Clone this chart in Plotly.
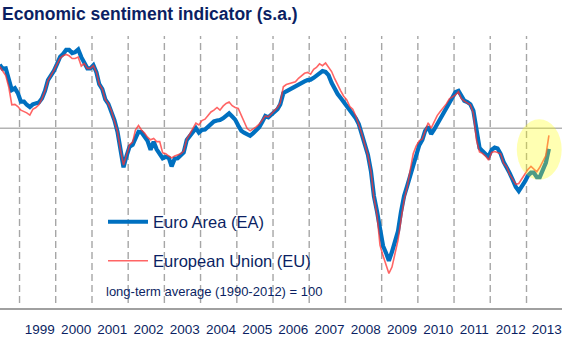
import pandas as pd
import plotly.graph_objects as go

# ---------------- data ----------------
first_month = "1998-06-01"
last_month = "2013-08-01"
months = pd.date_range(first_month, last_month, freq="MS") + pd.Timedelta(days=14)

euro_area = [
    # 1998 Jun-Dec
    114.1, 113.2, 113.3, 110.8, 108.5, 108.9, 107.8,
    # 1999
    105.9, 105.9, 105.2, 104.7, 105.3, 105.5, 105.7, 106.6, 108.3, 110.7, 111.7, 112.8,
    # 2000
    114.3, 115.9, 116.5, 117.4, 117.4, 116.7, 116.9, 117.5, 115.8, 114.6, 113.3, 113.3,
    # 2001
    114.0, 112.4, 109.8, 108.7, 106.4, 105.4, 103.9, 101.8, 99.2, 94.8, 91.3, 93.8,
    # 2002
    95.9, 96.3, 97.9, 99.2, 99.1, 98.1, 97.2, 95.2, 97.0, 95.3, 94.1, 93.3,
    # 2003
    93.6, 93.4, 91.5, 93.2, 93.3, 93.9, 94.6, 97.4, 98.3, 99.1, 100.0, 99.0,
    # 2004
    99.6, 99.7, 100.3, 101.2, 101.5, 101.7, 101.8, 102.2, 102.7, 103.3, 102.6, 101.9,
    # 2005
    100.6, 99.4, 99.0, 98.6, 98.3, 98.9, 99.6, 100.2, 101.4, 102.7, 102.4, 103.0,
    # 2006
    103.7, 104.2, 105.3, 107.8, 108.2, 108.6, 109.0, 109.3, 109.6, 110.1, 110.4, 110.7,
    # 2007
    110.8, 111.2, 111.6, 112.1, 112.7, 112.5, 111.8, 110.1, 108.7, 107.6, 106.7, 105.8,
    # 2008
    105.0, 104.2, 103.4, 102.2, 100.9, 98.6, 96.1, 94.1, 90.4, 84.9, 81.5, 77.4,
    # 2009
    73.8, 72.2, 70.5, 72.5, 75.1, 77.1, 81.4, 84.9, 87.1, 89.4, 92.3, 94.5,
    # 2010
    96.2, 97.4, 99.4, 100.3, 98.7, 99.7, 100.9, 101.9, 103.3, 104.6, 105.8, 107.2,
    # 2011
    108.0, 108.3, 107.1, 106.1, 105.8, 105.3, 103.9, 99.6, 95.6, 94.9, 94.3, 93.6,
    # 2012
    95.2, 95.7, 95.5, 94.3, 92.5, 91.4, 90.0, 88.5, 86.9, 86.0, 87.0, 88.1,
    # 2013 Jan-Aug
    89.4, 90.1, 90.1, 89.1, 89.1, 90.5, 92.3, 95.4,
]

european_union = [
    # 1998 Jun-Dec
    113.7, 112.6, 111.7, 109.1, 105.2, 105.3, 104.8,
    # 1999
    104.0, 103.7, 103.4, 102.9, 104.2, 104.6, 105.2, 106.5, 108.3, 110.6, 111.7, 112.9,
    # 2000
    114.3, 115.6, 116.1, 116.4, 116.1, 115.5, 115.5, 115.8, 113.8, 114.4, 113.3, 113.3,
    # 2001
    113.9, 112.4, 109.8, 108.7, 106.4, 105.4, 103.9, 101.8, 99.2, 95.2, 91.8, 94.0,
    # 2002
    96.3, 96.9, 99.6, 100.6, 99.6, 98.9, 98.0, 97.4, 97.7, 97.0, 97.0, 94.5,
    # 2003
    94.3, 93.8, 93.4, 93.8, 94.0, 94.3, 94.9, 97.6, 98.7, 99.8, 101.1, 100.7,
    # 2004
    101.7, 102.0, 102.9, 103.6, 104.0, 104.6, 104.0, 104.9, 105.5, 105.8, 105.0, 104.6,
    # 2005
    104.4, 102.7, 101.2, 99.9, 99.4, 99.8, 100.3, 100.9, 101.8, 102.7, 102.5, 103.2,
    # 2006
    103.7, 104.6, 105.6, 109.2, 109.7, 109.9, 110.2, 110.3, 111.1, 111.6, 112.2, 112.4,
    # 2007
    112.0, 113.1, 113.5, 114.3, 113.9, 114.5, 113.5, 112.6, 111.0, 109.5, 108.3, 107.1,
    # 2008
    106.3, 104.8, 104.2, 102.7, 100.9, 98.7, 96.3, 94.0, 90.3, 84.5, 80.7, 74.0,
    # 2009
    71.6, 69.4, 67.7, 69.1, 72.0, 75.1, 79.6, 84.0, 86.9, 90.3, 94.3, 96.0,
    # 2010
    97.2, 97.6, 99.4, 101.2, 100.0, 101.6, 102.8, 103.7, 104.5, 105.4, 106.5, 106.9,
    # 2011
    107.4, 108.1, 106.6, 106.0, 105.6, 105.2, 103.3, 97.4, 94.7, 94.4, 93.8, 92.9,
    # 2012
    94.6, 94.8, 94.6, 94.3, 92.2, 91.4, 89.7, 88.5, 87.5, 87.7, 88.7, 89.9,
    # 2013 Jan-Aug
    90.8, 91.5, 90.9, 90.3, 91.3, 92.5, 93.9, 98.4,
]

years = list(range(1999, 2014))
year_labels = [str(y) for y in years]
long_term_average = 100

title_text = "Economic sentiment indicator (s.a.)"
name_ea = "Euro Area (EA)"
name_eu = "European Union (EU)"
note_text = "long-term average (1990-2012) = 100"

# ---------------- style ----------------
W, H = 562, 338
M_T, M_B = 36, 30
PLOT_H = H - M_T - M_B
NAVY = "#0b1f63"
BLUE = "#0070c0"
RED = "rgba(255,50,50,0.75)"
GRID = "#a6a6a6"
FONT = "Liberation Sans, Arial, sans-serif"


def px_x(p):
    return p / W


def px_y(p):
    return (H - M_B - p) / PLOT_H


fig = go.Figure()
fig.add_trace(go.Scatter(x=months, y=euro_area, name=name_ea, mode="lines",
                         line=dict(color=BLUE, width=4.2), legend="legend"))
fig.add_trace(go.Scatter(x=months, y=european_union, name=name_eu, mode="lines",
                         line=dict(color=RED, width=1.6), legend="legend2"))

shapes = []
for y in years:
    shapes.append(dict(type="line", xref="x", yref="y", x0=f"{y}-01-01", x1=f"{y}-01-01",
                       y0=61.1, y1=120.5, layer="below",
                       line=dict(color=GRID, width=1.4, dash="7px,4px")))
# white boxes behind legend and note
shapes.append(dict(type="rect", xref="paper", yref="paper", x0=px_x(85), x1=px_x(350),
                   y0=px_y(279), y1=px_y(200), fillcolor="white", line=dict(width=0), layer="below"))
shapes.append(dict(type="rect", xref="paper", yref="paper", x0=px_x(100), x1=px_x(338),
                   y0=px_y(305), y1=px_y(279), fillcolor="white", line=dict(width=0), layer="below"))
# long-term average line
shapes.append(dict(type="line", xref="paper", yref="y", x0=0, x1=1,
                   y0=long_term_average, y1=long_term_average, layer="below",
                   line=dict(color="#b3b3b3", width=1.5)))
# highlight ellipse
shapes.append(dict(type="circle", xref="x", yref="y", x0="2012-09-25", x1="2013-12-22",
                   y0=88.5, y1=102.0, fillcolor="rgba(255,255,0,0.3)",
                   line=dict(width=0), layer="above"))

fig.update_layout(
    width=W, height=H,
    margin=dict(l=0, r=0, t=M_T, b=M_B, pad=0),
    paper_bgcolor="white", plot_bgcolor="white",
    font=dict(family=FONT, color=NAVY),
    showlegend=True,
    shapes=shapes,
    xaxis=dict(type="date", range=["1998-06-18", "2013-12-25"],
               showgrid=False, zeroline=False,
               showline=True, linecolor="#a0a0a0", linewidth=1.5,
               tickvals=[f"{y}-07-25" for y in years], ticktext=year_labels,
               ticks="outside", ticklen=8, tickcolor="rgba(0,0,0,0)",
               tickfont=dict(size=13.5, color=NAVY, family=FONT)),
    yaxis=dict(range=[60, 120.5], showgrid=False, zeroline=False,
               showticklabels=False, showline=False),
    legend=dict(x=px_x(103), xanchor="left", y=px_y(222), yanchor="middle",
                bgcolor="rgba(0,0,0,0)", borderwidth=0, itemwidth=40,
                font=dict(size=16.5, color=NAVY, family=FONT)),
    legend2=dict(x=px_x(103), xanchor="left", y=px_y(261), yanchor="middle",
                 bgcolor="rgba(0,0,0,0)", borderwidth=0, itemwidth=40,
                 font=dict(size=16.5, color=NAVY, family=FONT)),
    annotations=[
        dict(text=f"<b>{title_text}</b>", xref="paper", yref="paper", x=0, y=px_y(14),
             xanchor="left", yanchor="middle", showarrow=False, xshift=0,
             font=dict(size=17.5, color=NAVY, family=FONT)),
        dict(text=note_text, xref="paper", yref="paper", x=px_x(104), y=px_y(291),
             xanchor="left", yanchor="middle", showarrow=False,
             font=dict(size=13, color=NAVY, family=FONT)),
    ],
)

fig.write_html("out.html")
